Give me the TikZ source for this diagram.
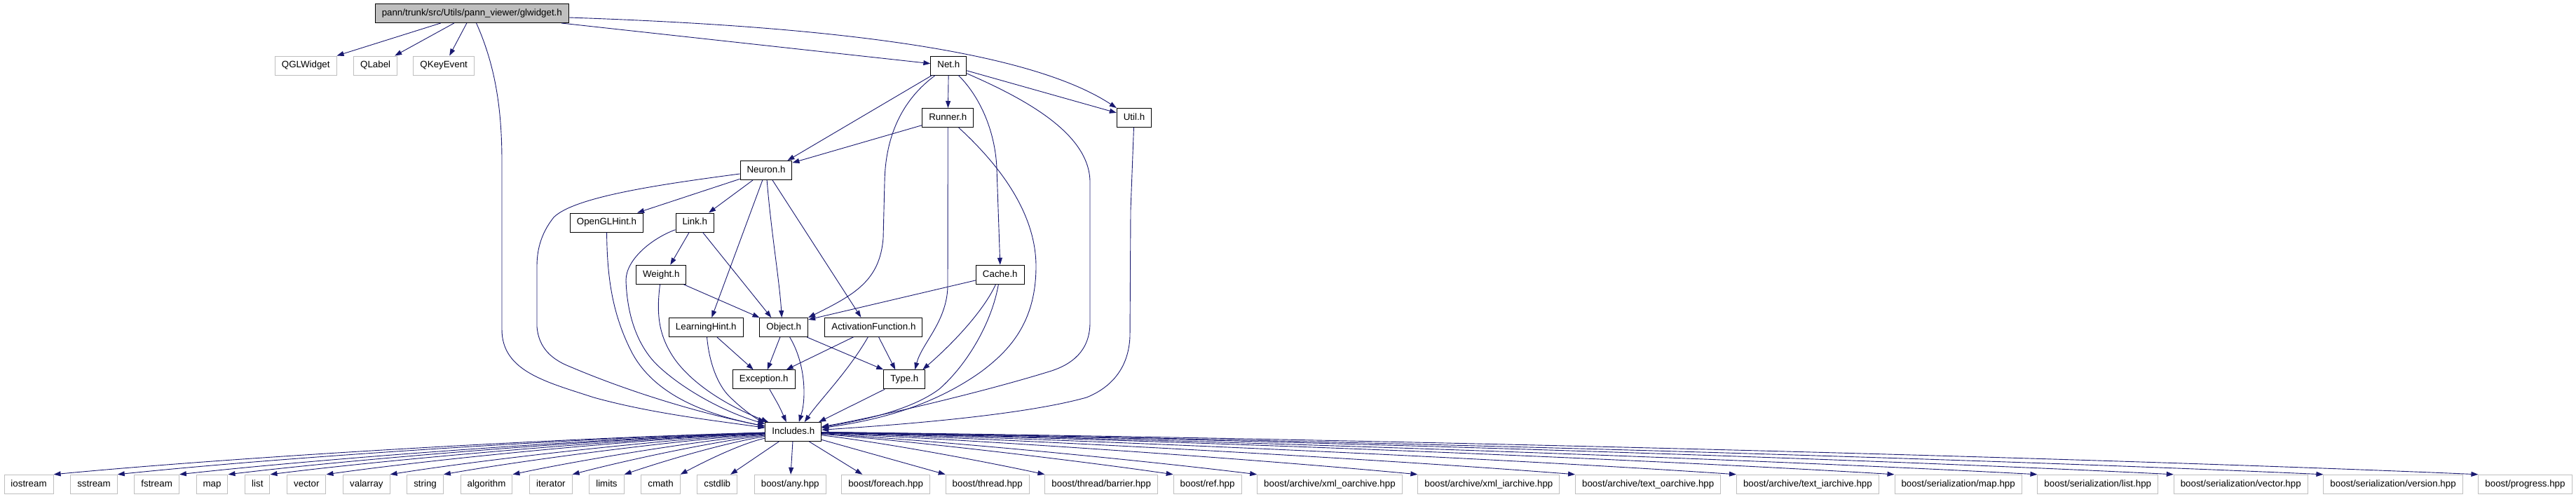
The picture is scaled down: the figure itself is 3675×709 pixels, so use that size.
\documentclass[tikz,border=0pt]{standalone}
\usepackage{fontspec}
\setmainfont{Liberation Sans}
\usetikzlibrary{arrows.meta,positioning,calc}
\definecolor{edgeblue}{HTML}{191970}
\definecolor{extgray}{HTML}{BFBFBF}
\tikzset{
  fbox/.style={draw=black, line width=1pt, fill=white, inner xsep=9.5pt, inner ysep=0pt,
    minimum height=27pt, text height=9.6pt, text depth=2.8pt,
    font=\fontsize{13.33}{16}\selectfont, text=black},
  extbox/.style={fbox, draw=extgray},
  rootbox/.style={fbox, fill=extgray},
  dep/.style={draw=edgeblue, line width=0.9pt, -{Triangle[length=10pt,width=7pt]}},
}
\begin{document}
\begin{tikzpicture}[x=1pt,y=-1pt]
\useasboundingbox (0,0) rectangle (3675,709);

% ---- nodes ----
\node[rootbox] (glw) at (673.3,19) {pann/trunk/src/Utils/pann\_viewer/glwidget.h};
\node[extbox] (qgl) at (436.2,93.5) {QGLWidget};
\node[extbox] (qlab) at (535.7,93.5) {QLabel};
\node[extbox] (qkey) at (633.2,93.5) {QKeyEvent};
\node[fbox] (net) at (1353.3,93.5) {Net.h};
\node[fbox] (runner) at (1352.3,168) {Runner.h};
\node[fbox] (util) at (1618,168) {Util.h};
\node[fbox] (neuron) at (1093,243) {Neuron.h};
\node[fbox] (ogl) at (865.5,317.5) {OpenGLHint.h};
\node[fbox] (link) at (991.3,317.5) {Link.h};
\node[fbox] (weight) at (943.3,391.8) {Weight.h};
\node[fbox] (cache) at (1426.8,391.7) {Cache.h};
\node[fbox] (lh) at (1007.3,467) {LearningHint.h};
\node[fbox] (object) at (1118.3,467) {Object.h};
\node[fbox] (af) at (1246.4,466.8) {ActivationFunction.h};
\node[fbox] (exc) at (1089.8,541.3) {Exception.h};
\node[fbox] (type) at (1290.3,541.3) {Type.h};
\node[fbox] (inc) at (1131.8,616) {Includes.h};

% bottom row
\node[extbox, anchor=west] (b1) at (5.5,690.8) {iostream};
\node[extbox, right=23.7pt of b1] (b2) {sstream};
\node[extbox, right=23.7pt of b2] (b3) {fstream};
\node[extbox, right=23.7pt of b3] (b4) {map};
\node[extbox, right=23.7pt of b4] (b5) {list};
\node[extbox, right=23.7pt of b5] (b6) {vector};
\node[extbox, right=23.7pt of b6] (b7) {valarray};
\node[extbox, right=23.7pt of b7] (b8) {string};
\node[extbox, right=23.7pt of b8] (b9) {algorithm};
\node[extbox, right=23.7pt of b9] (b10) {iterator};
\node[extbox, right=23.7pt of b10] (b11) {limits};
\node[extbox, right=23.7pt of b11] (b12) {cmath};
\node[extbox, right=23.7pt of b12] (b13) {cstdlib};
\node[extbox, right=23.7pt of b13] (b14) {boost/any.hpp};
\node[extbox, right=21.7pt of b14] (b15) {boost/foreach.hpp};
\node[extbox, right=21.7pt of b15] (b16) {boost/thread.hpp};
\node[extbox, right=21.7pt of b16] (b17) {boost/thread/barrier.hpp};
\node[extbox, right=21.7pt of b17] (b18) {boost/ref.hpp};
\node[extbox, right=21.7pt of b18] (b19) {boost/archive/xml\_oarchive.hpp};
\node[extbox, right=21.7pt of b19] (b20) {boost/archive/xml\_iarchive.hpp};
\node[extbox, right=21.7pt of b20] (b21) {boost/archive/text\_oarchive.hpp};
\node[extbox, right=21.7pt of b21] (b22) {boost/archive/text\_iarchive.hpp};
\node[extbox, right=21.7pt of b22] (b23) {boost/serialization/map.hpp};
\node[extbox, right=21.7pt of b23] (b24) {boost/serialization/list.hpp};
\node[extbox, right=21.7pt of b24] (b25) {boost/serialization/vector.hpp};
\node[extbox, right=21.7pt of b25] (b26) {boost/serialization/version.hpp};
\node[extbox, right=21.7pt of b26] (b27) {boost/progress.hpp};

% ---- edges from glwidget.h ----
\draw[dep] (glw) -- (qgl.north east);
\draw[dep] (glw) -- ([xshift=-4pt]qlab.north east);
\draw[dep] (glw) -- ([xshift=8pt]qkey.north);
\draw[dep] (glw) .. controls (705,90) and (716,150) .. (716,230) -- (716,470)
  .. controls (716,530) and (780,545) .. (847,567) .. controls (930,590) and (1020,600) .. (inc);
\draw[dep] (glw) -- (net);
\draw[dep] ([yshift=-6pt]glw.east) .. controls (1100,35) and (1450,60) .. (util.north west);

% ---- Net.h ----
\draw[dep] (net) -- (runner);
\draw[dep] (net) -- (util);
\draw[dep] (net) -- ([xshift=-7pt]neuron.north east);
\draw[dep] (net) .. controls (1290,140) and (1263,190) .. (1262,260) -- (1260,340)
  .. controls (1255,400) and (1220,420) .. (object.north east);
\draw[dep] (net) .. controls (1400,140) and (1420,190) .. (1422,240) -- (cache.north);
\draw[dep] (net) .. controls (1460,140) and (1555,190) .. (1555,260) -- (1555,460)
  .. controls (1555,500) and (1530,520) .. (1497,530) .. controls (1400,560) and (1250,595) .. (inc);

% ---- Util.h ----
\draw[dep] (util) -- (1613,300) -- (1612,480) .. controls (1610,530) and (1580,555) .. (1550,567)
  .. controls (1450,595) and (1250,608) .. (inc);

% ---- Runner.h ----
\draw[dep] (runner) -- (neuron);
\draw[dep] (runner) -- (1352,410) .. controls (1350,460) and (1315,490) .. ([xshift=15pt]type.north);
\draw[dep] (runner) .. controls (1420,230) and (1478,300) .. (1478,380)
  .. controls (1478,460) and (1440,500) .. (1400,530) .. controls (1330,580) and (1250,600) .. (inc);

% ---- Neuron.h ----
\draw[dep] (neuron) .. controls (950,262) and (820,280) .. (790,310)
  .. controls (770,335) and (766,360) .. (766,380) -- (766,466)
  .. controls (768,490) and (780,510) .. (813,523) .. controls (900,560) and (1000,590) .. (inc);
\draw[dep] (neuron) -- ([xshift=-9pt]ogl.north east);
\draw[dep] (neuron) -- ([xshift=-8pt]link.north east);
\draw[dep] (neuron) -- ([xshift=8pt]lh.north);
\draw[dep] (neuron) .. controls (1100,330) and (1112,400) .. ([xshift=-3pt]object.north);
\draw[dep] (neuron) -- ([xshift=-18pt]af.north);

% ---- OpenGLHint.h ----
\draw[dep] (ogl) .. controls (866,400) and (875,450) .. (900,500) .. controls (930,560) and (1000,590) .. (inc);

% ---- Link.h ----
\draw[dep] (link) .. controls (930,340) and (893,370) .. (893,400)
  .. controls (895,460) and (915,500) .. (940,523) .. controls (980,560) and (1040,590) .. (inc);
\draw[dep] (link) -- ([xshift=13pt]weight.north);
\draw[dep] (link) -- ([xshift=-18pt]object.north);

% ---- Weight.h ----
\draw[dep] (weight) -- (object.north west);
\draw[dep] (weight) .. controls (936,450) and (940,480) .. (963,513) .. controls (990,550) and (1040,580) .. (inc);

% ---- Cache.h ----
\draw[dep] (cache) -- ([yshift=-3pt]object.north east);
\draw[dep] (cache) .. controls (1405,440) and (1365,485) .. ([xshift=-4pt]type.north east);
\draw[dep] (cache) .. controls (1415,460) and (1380,520) .. (1340,555) .. controls (1300,585) and (1230,600) .. (inc);

% ---- LearningHint.h ----
\draw[dep] (lh) -- ([xshift=-15pt]exc.north);
\draw[dep] (lh) .. controls (1012,520) and (1025,550) .. (1040,565) .. controls (1060,585) and (1080,598) .. (inc);

% ---- Object.h ----
\draw[dep] (object) -- ([xshift=5pt]exc.north);
\draw[dep] (object) .. controls (1150,520) and (1150,570) .. ([xshift=8pt]inc.north);
\draw[dep] (object) -- (type.north west);

% ---- ActivationFunction.h ----
\draw[dep] (af) -- ([xshift=32pt]exc.north);
\draw[dep] (af) -- ([xshift=-13pt]type.north);
\draw[dep] (af) .. controls (1210,530) and (1170,570) .. ([xshift=16pt]inc.north);

% ---- Exception.h, Type.h ----
\draw[dep] (exc) .. controls (1112,580) .. ([xshift=-10pt]inc.north);
\draw[dep] (type) -- ([xshift=-4pt]inc.north east);

% ---- Includes.h to library headers ----
\foreach \b/\h in {b1/9,b2/9,b3/8,b4/8,b5/7,b6/7,b7/6,b8/5,b9/4,b10/3,b11/2,b12/1} {
  \draw[dep] (inc) .. controls ($(inc.west)!0.3!(\b.north east)+(0,-\h)$)
    and ($(inc.west)!0.75!(\b.north east)+(0,-\h)$) .. (\b.north east);
}
\draw[dep] (inc) -- ([xshift=-10pt]b13.north east);
\draw[dep] (inc) -- (b14);
\draw[dep] (inc) -- ([xshift=30pt]b15.north west);
\draw[dep] (inc) -- (b16.north west);
\foreach \b/\h in {b17/2,b18/3,b19/4,b20/5,b21/6,b22/7,b23/8,b24/8,b25/9,b26/9,b27/10} {
  \draw[dep] (inc) .. controls ($(inc.east)!0.3!(\b.north west)+(0,-\h)$)
    and ($(inc.east)!0.75!(\b.north west)+(0,-\h)$) .. (\b.north west);
}
\end{tikzpicture}
\end{document}
